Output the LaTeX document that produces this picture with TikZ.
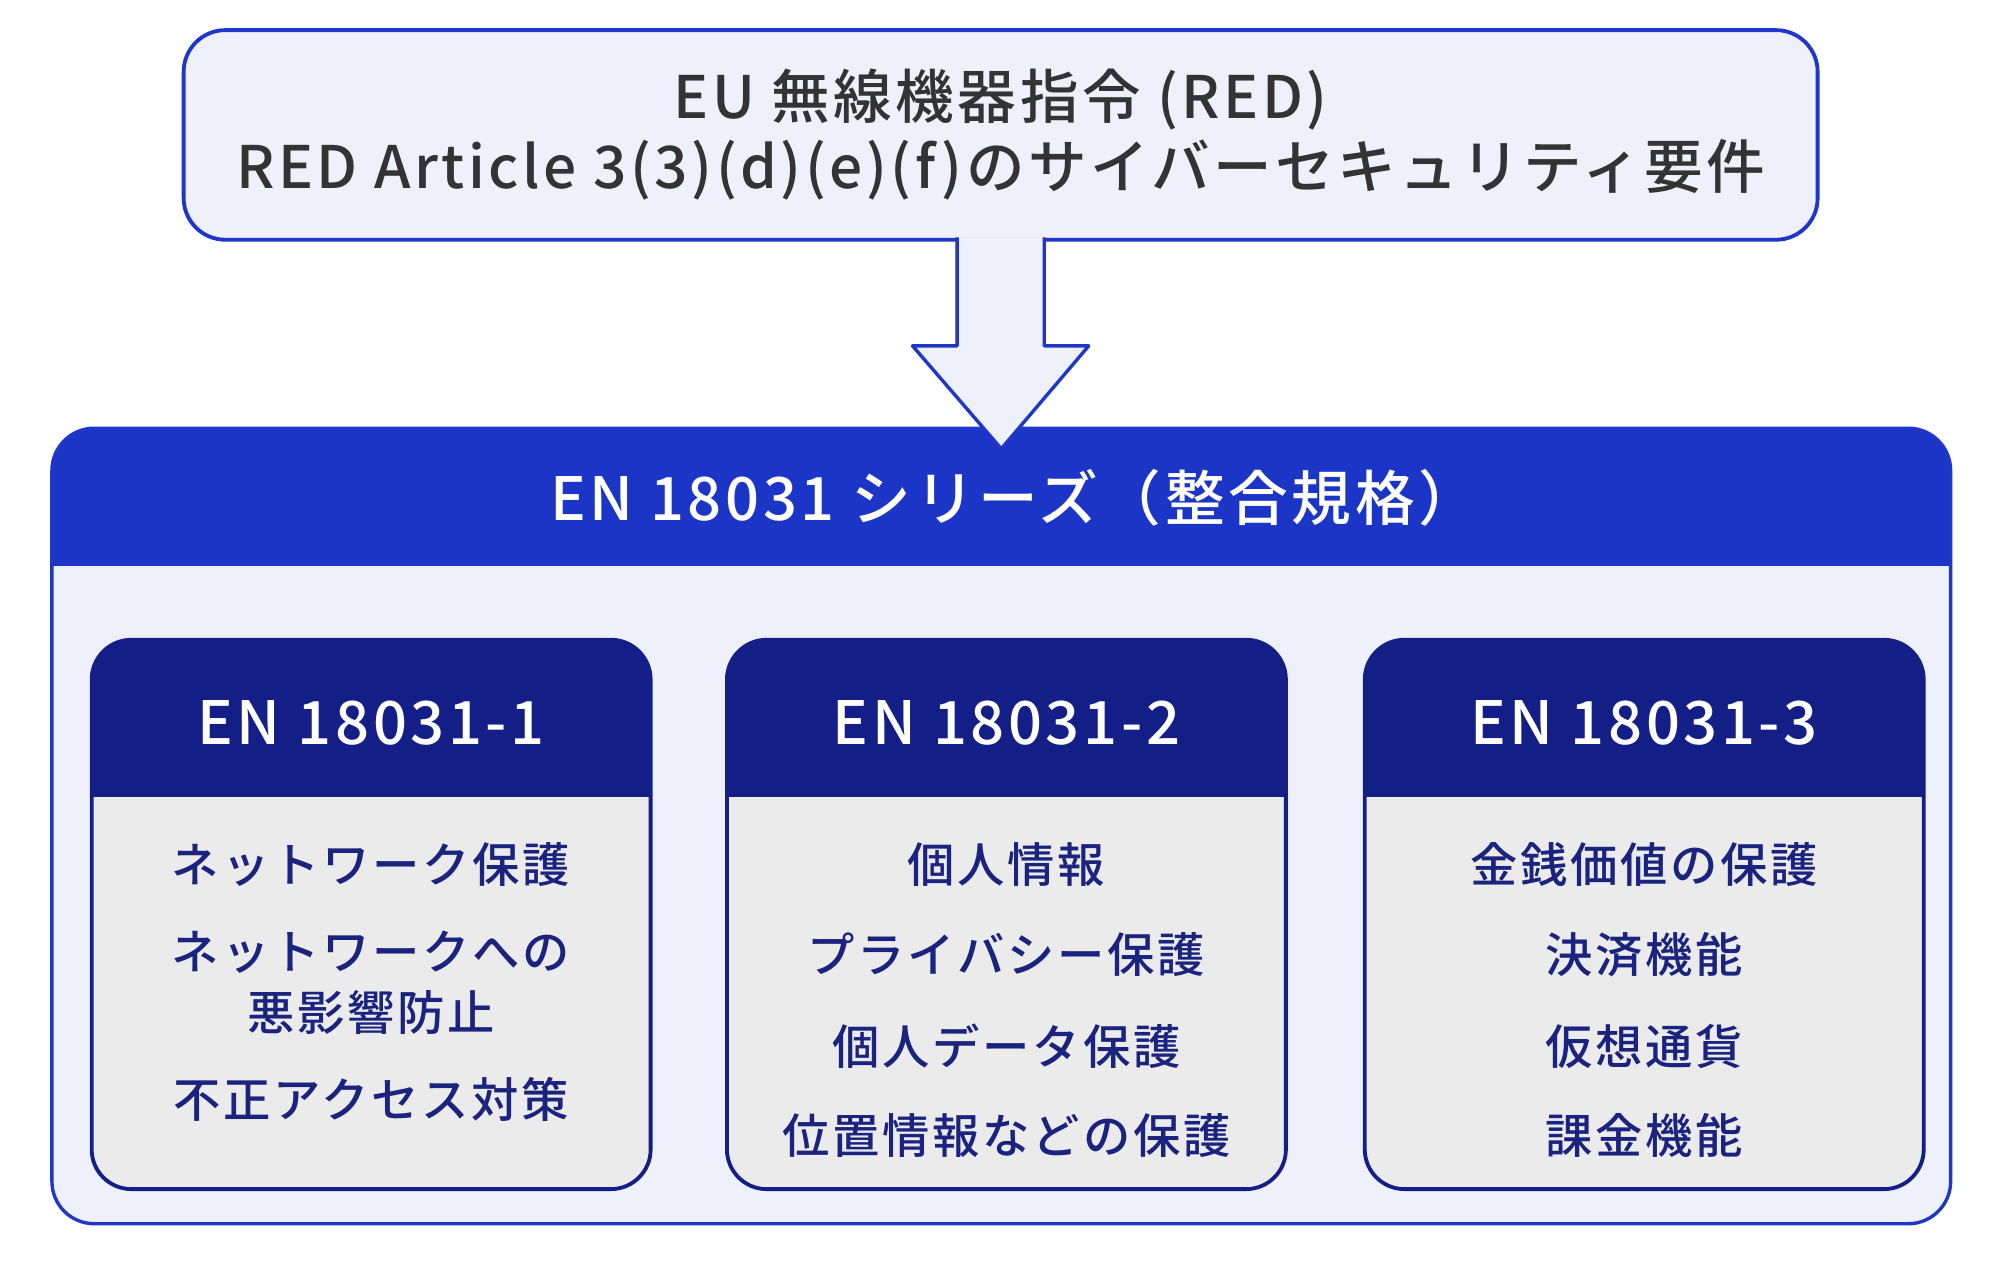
\documentclass[tikz,border=0pt]{standalone}
\usepackage{fontspec}
\setmainfont{Noto Sans CJK JP}[UprightFont={* Medium},LetterSpace=6]
\usepackage{tikz}
\usetikzlibrary{calc}
\definecolor{redline}{HTML}{1F36C8}
\definecolor{redfill}{HTML}{EEF1FC}
\definecolor{serieshead}{HTML}{1B36C6}
\definecolor{enhead}{HTML}{141E87}
\definecolor{enbody}{HTML}{EBEBEB}
\definecolor{entext}{HTML}{1A237E}
\definecolor{redtext}{HTML}{333333}
\tikzset{
  redbox/.style={draw=redline,fill=redfill,line width=1.7pt,rounded corners=0.65cm,outer sep=0pt,
    minimum width=25.49cm,minimum height=3.27cm,align=center,text=redtext,
    font=\fontsize{26}{31}\selectfont},
  seriesbox/.style={draw=redline,fill=redfill,line width=1.5pt,rounded corners=0.66cm,outer sep=0pt,
    minimum width=29.62cm,minimum height=12.41cm,
    path picture={\fill[serieshead,sharp corners] (path picture bounding box.north west) rectangle ([yshift=-2.15cm]path picture bounding box.north east);}},
  enbox/.style={draw=enhead,fill=enbody,line width=1.7pt,rounded corners=0.62cm,outer sep=0pt,
    minimum width=8.72cm,minimum height=8.57cm,
    path picture={\fill[enhead,sharp corners] (path picture bounding box.north west) rectangle ([yshift=-2.45cm]path picture bounding box.north east);}},
  headtext/.style={text=white,font=\fontsize{26.5}{30}\selectfont},
  item/.style={text=entext,align=center,font=\fontsize{21}{27}\selectfont},
  bigarrow/.style={draw=redline,fill=redfill,line width=1.5pt,line join=round}
}
\begin{document}
\begin{tikzpicture}[y=-1cm]
	\useasboundingbox (0,0) rectangle (31.2,19.968);
	\node[redbox] (red) at (15.61,2.105) {EU 無線機器指令 (RED)\\RED Article 3(3)(d)(e)(f)のサイバーセキュリティ要件};
	\node[seriesbox] (series) at (15.62,12.885) {};
	\node[headtext] (seriestitle) at (15.82,7.76) {EN 18031 シリーズ（整合規格）};
	\filldraw[bigarrow] ([xshift=-0.68cm,yshift=1pt]red.south) -- ++(0,1.69) -- ++(-0.695,0) -- ([yshift=-0.32cm]series.north) -- ($([yshift=1pt]red.south)+(1.375,1.69)$) -- ++(-0.695,0) -- ([xshift=0.68cm,yshift=1pt]red.south);

	\node[enbox] (en1) at (5.79,14.265) {};
	\node[enbox] (en2) at (15.70,14.265) {};
	\node[enbox] (en3) at (25.65,14.265) {};
	\node[headtext] (en1h) at (5.79,11.28) {EN 18031-1};
	\node[headtext] (en2h) at (15.70,11.28) {EN 18031-2};
	\node[headtext] (en3h) at (25.65,11.28) {EN 18031-3};

	\node[item] (n1) at (5.79,13.49) {ネットワーク保護};
	\node[item] (n2) at (5.79,15.33) {ネットワークへの\\悪影響防止};
	\node[item] (n3) at (5.79,17.15) {不正アクセス対策};

	\node[item] (p1) at (15.70,13.49) {個人情報};
	\node[item] (p2) at (15.70,14.89) {プライバシー保護};
	\node[item] (p3) at (15.70,16.32) {個人データ保護};
	\node[item] (p4) at (15.70,17.71) {位置情報などの保護};

	\node[item] (m1) at (25.65,13.49) {金銭価値の保護};
	\node[item] (m2) at (25.65,14.89) {決済機能};
	\node[item] (m3) at (25.65,16.32) {仮想通貨};
	\node[item] (m4) at (25.65,17.71) {課金機能};
\end{tikzpicture}
\end{document}
